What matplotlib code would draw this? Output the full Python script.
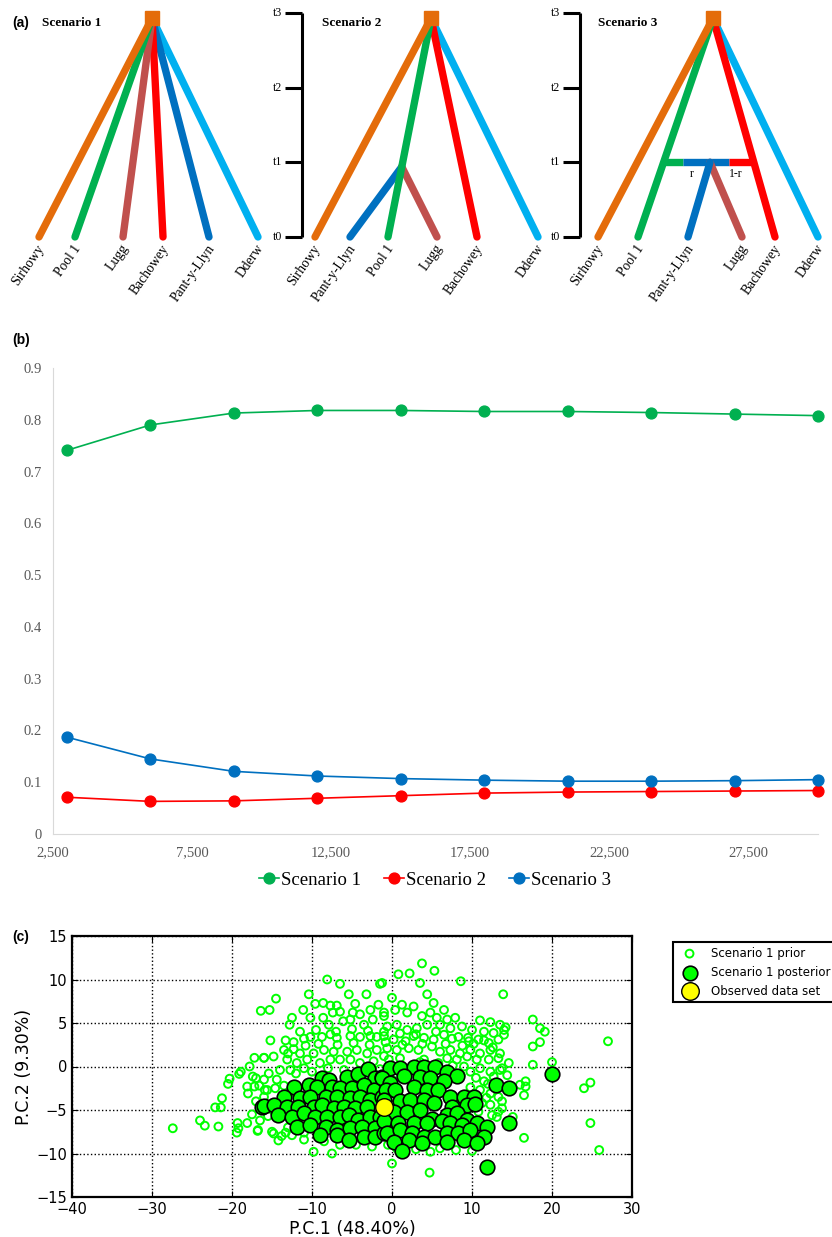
import numpy as np
import matplotlib
matplotlib.use('Agg')
import matplotlib.pyplot as plt

# ---------------- data ----------------
# (a) tree topologies: leaves in drawing order and their x positions
time_labels = ['t0', 't1', 't2', 't3']
root_t = 2.93
pop_colors = {'Sirhowy': '#E46C0A', 'Pool 1': '#00B050', 'Lugg': '#C0504D',
              'Bachowey': '#FF0000', 'Pant-y-Llyn': '#0070C0', 'Dderw': '#00B0F0'}

s1_root_x = 152
s1_leaves = ['Sirhowy', 'Pool 1', 'Lugg', 'Bachowey', 'Pant-y-Llyn', 'Dderw']
s1_leaf_x = [39, 75, 123, 163, 209, 258]

s2_root_x = 431
s2_leaves = ['Sirhowy', 'Pant-y-Llyn', 'Pool 1', 'Lugg', 'Bachowey', 'Dderw']
s2_leaf_x = [315, 350, 388, 437, 477, 538]
s2_split_t = 0.94          # Pant-y-Llyn and Lugg split off Pool 1

s3_root_x = 713
s3_leaves = ['Sirhowy', 'Pool 1', 'Pant-y-Llyn', 'Lugg', 'Bachowey', 'Dderw']
s3_leaf_x = [598, 638, 688, 742, 775, 818]
s3_admix_t = 1.0           # admixture between Pool 1 and Bachowey
s3_admix_x = 710

# (b) posterior probability vs number of simulations
n_sims = [3000, 6000, 9000, 12000, 15000, 18000, 21000, 24000, 27000, 30000]
prob_s1 = [0.741, 0.790, 0.813, 0.818, 0.818, 0.816, 0.816, 0.814, 0.811, 0.808]
prob_s2 = [0.071, 0.063, 0.064, 0.069, 0.074, 0.079, 0.081, 0.082, 0.083, 0.084]
prob_s3 = [0.187, 0.145, 0.121, 0.112, 0.107, 0.104, 0.102, 0.102, 0.103, 0.105]

# (c) PCA of prior / posterior simulated data sets
prior_pts = [
    (-27.4, -7.1), (-24.0, -6.2), (-23.4, -6.8), (-21.7, -6.9), (-22.1, -4.7), (-21.4, -4.7),
    (-21.25, -3.65), (-20.5, -2.0), (-20.3, -1.4), (-19.3, -6.5), (-19.2, -7.1), (-19.4, -7.6),
    (-19.1, -0.85), (-18.9, -0.6), (-18.1, -6.5), (-17.5, -5.5), (-16.8, -7.4), (-16.5, -6.2),
    (-17.8, 0.0), (-17.2, 1.0), (-17.4, -1.15), (-17.0, -1.35), (-18.1, -2.3), (-18.0, -3.1),
    (-16.6, -2.2), (-17.2, -2.3), (-16.0, 1.0), (-17.0, -4.0), (-16.0, -1.5), (-15.9, -2.7),
    (-8.1, 10.0), (-6.5, 9.5), (-1.5, 9.5), (-14.5, 7.8), (-15.3, 6.5), (-10.4, 8.3), (-5.4, 8.3),
    (-3.2, 8.3), (-11.1, 6.5), (-9.6, 7.2), (-8.6, 7.3), (-7.7, 7.0), (-6.9, 7.0), (-4.6, 7.2),
    (-1.7, 7.1), (-12.5, 5.6), (-10.2, 5.6), (-12.8, 4.8), (-7.4, 6.2), (-6.5, 6.3), (-4.9, 6.2),
    (-4.0, 6.0), (-2.7, 6.5), (-1.0, 5.8), (-8.6, 5.6), (-7.9, 4.8), (-6.1, 5.2), (-5.2, 5.4),
    (-3.5, 4.8), (-2.4, 5.4), (-15.2, 3.0), (-13.3, 3.0), (-12.3, 2.8), (-11.0, 3.2), (-10.2, 3.4),
    (-8.75, 3.4), (-7.7, 3.7), (-6.9, 3.3), (-5.2, 3.5), (-4.0, 3.4), (-2.7, 3.5), (-1.9, 3.4),
    (-16.0, 1.0), (-14.8, 1.15), (-13.5, 1.9), (-12.3, 2.0), (-11.5, 1.5), (-9.8, 1.5), (-8.5, 1.9),
    (-7.3, 1.7), (-5.6, 1.7), (-4.4, 1.9), (-3.1, 1.5), (-1.9, 1.9), (-13.1, 0.8), (-11.9, 0.4),
    (-10.6, 0.8), (-9.0, 0.4), (-7.7, 0.8), (-6.5, 0.8), (-5.2, 0.8), (-4.0, 0.4), (-2.3, 0.6),
    (-1.0, 1.2), (-14.0, -0.4), (-12.7, -0.4), (-11.0, -0.2), (-15.4, -0.8), (-14.4, -1.5),
    (-15.6, -2.7), (-14.6, -2.5), (-16.0, -3.5), (-15.0, -7.5), (-14.2, -8.5), (-13.3, -7.6),
    (-12.5, -7.9), (-9.8, -9.8),
    (3.75, 11.85), (0.8, 10.6), (2.2, 10.7), (5.3, 11.0), (3.5, 9.6), (8.6, 9.8), (-1.25, 9.6),
    (0.0, 7.9), (4.4, 8.3), (5.2, 7.3), (6.5, 6.5), (2.7, 6.9), (1.25, 7.1), (0.4, 6.5), (-1.0, 6.2),
    (1.9, 6.2), (3.75, 5.8), (4.8, 6.2), (5.6, 5.6), (6.9, 5.4), (7.9, 5.6), (11.0, 5.3), (12.3, 5.1),
    (13.5, 4.8), (-0.6, 4.6), (0.6, 4.8), (1.9, 4.2), (3.1, 4.4), (4.4, 4.8), (6.0, 4.8), (7.3, 4.4),
    (8.75, 4.6), (10.0, 4.2), (11.5, 4.0), (12.7, 3.85), (14.0, 4.2), (-1.0, 3.5), (0.2, 3.1),
    (1.7, 2.9), (2.7, 3.5), (4.0, 3.3), (5.2, 3.1), (6.5, 3.65), (8.3, 3.4), (9.6, 2.9), (10.8, 3.1),
    (12.1, 2.7), (13.3, 3.1), (-0.6, 2.1), (0.6, 1.9), (2.1, 2.1), (3.3, 1.9), (5.0, 2.3), (6.0, 1.7),
    (7.3, 1.9), (8.5, 1.5), (9.8, 1.9), (11.0, 1.5), (12.3, 1.9), (13.5, 1.5), (-0.4, 0.8), (1.0, 0.95),
    (4.0, 0.8), (6.9, 0.95), (8.1, 0.8), (9.4, 1.15), (10.6, 0.8), (12.1, 0.8), (13.3, 0.95),
    (9.0, 0.0), (9.8, -0.6), (11.0, -0.2), (12.3, -0.6), (13.5, -0.4), (11.5, -1.7), (12.7, -1.15),
    (11.0, -2.7), (12.3, -3.1), (13.3, -3.5), (11.25, -4.2), (12.3, -4.4), (13.3, -5.2), (13.1, -5.8),
    (0.0, -11.15), (4.7, -12.2), (4.8, -9.8), (0.6, -9.4),
    (13.9, 8.3), (17.6, 5.4), (18.5, 4.4), (19.1, 4.0), (14.2, 4.5), (14.0, 3.65), (17.6, 2.3),
    (18.5, 2.8), (27.0, 2.9), (20.0, 0.5), (17.6, 0.2), (14.6, 0.4), (13.75, -0.2), (14.4, -1.0),
    (16.0, -2.1), (16.7, -1.7), (16.7, -2.3), (16.5, -3.3), (24.0, -2.5), (24.8, -1.85),
    (13.75, -4.0), (13.75, -4.8), (15.1, -5.8), (24.8, -6.5), (16.5, -8.2), (25.9, -9.6),
    (-11.5, 4.0), (-9.5, 4.2), (-7.0, 4.0), (-5.0, 4.3), (-3.0, 4.1), (-1.0, 4.0), (1.0, 3.8),
    (3.0, 3.7), (5.5, 4.0), (7.5, 3.2), (9.5, 3.3), (11.5, 3.0), (-13.0, 1.5), (-10.8, 2.4),
    (-9.2, 2.6), (-6.8, 2.5), (-4.8, 2.7), (-2.8, 2.5), (-0.8, 2.8), (1.3, 2.5), (3.8, 2.6),
    (6.7, 2.6), (8.8, 2.4), (10.2, 2.6), (12.6, 2.2), (-12.0, -0.8), (-10.0, -0.6), (-8.0, -0.2),
    (-6.0, -0.4), (-3.5, -0.6), (-1.5, -0.3), (0.5, -0.8), (2.2, -0.5), (3.5, 0.5), (5.8, 0.4),
    (7.6, 0.1), (8.6, -1.0), (10.5, -1.3), (12.0, -2.0), (9.8, -2.4), (11.8, -3.6), (10.8, -5.2),
    (12.5, -5.6), (12.0, -7.2), (-13.5, -2.2), (-12.8, -3.0), (-14.0, -5.0), (-15.5, -5.7),
    (-13.0, -7.0), (-11.0, -7.6), (-8.5, -8.6), (-6.5, -9.0), (-4.5, -9.0), (-2.5, -9.2),
    (-0.5, -9.0), (3.0, -9.5), (6.0, -9.4), (8.0, -9.6), (-7.5, -10.0), (10.0, -9.7),
    (-11.0, -8.4), (-13.8, -8.0), (-16.75, -7.3), (-14.8, -7.7), (-16.4, 6.4),
]

posterior_pts = [
    (-16.2, -4.6),
    (-8.75, -1.35), (-7.9, -1.5), (-5.6, -1.15), (-4.2, -0.85), (-3.0, -0.3), (-2.1, -1.35),
    (-1.25, -1.15), (-12.3, -2.3), (-10.4, -2.1), (-9.4, -2.3), (-7.5, -2.3), (-6.5, -2.5),
    (-5.0, -2.5), (-3.5, -2.1), (-2.3, -2.7), (-13.5, -3.5), (-11.5, -3.65), (-10.2, -3.5),
    (-8.3, -3.5), (-6.9, -3.5), (-5.2, -3.65), (-4.0, -3.5), (-2.7, -3.85), (-1.25, -3.5),
    (-16.0, -4.5), (-14.8, -4.4), (-13.1, -4.6), (-11.7, -4.6), (-9.8, -4.6), (-8.75, -4.4),
    (-7.3, -4.8), (-6.0, -4.6), (-4.6, -4.8), (-3.1, -4.6), (-14.2, -5.6), (-12.5, -5.8),
    (-11.0, -5.4), (-9.6, -5.8), (-8.1, -5.8), (-6.5, -5.8), (-5.4, -5.6), (-4.2, -6.15),
    (-2.7, -5.8), (-1.5, -5.8), (-11.9, -6.9), (-10.2, -6.7), (-8.3, -6.9), (-6.9, -7.3),
    (-5.2, -7.1), (-3.75, -6.9), (-2.1, -7.1), (-9.0, -7.9), (-6.9, -7.9), (-5.4, -8.5),
    (-3.5, -8.1), (-2.1, -8.1), (-1.0, -7.7),
    (-0.2, -0.2), (1.0, -0.2), (2.7, -0.1), (4.0, 0.0), (5.4, 0.0), (6.9, -0.6), (8.1, -1.1),
    (-1.25, -1.35), (1.5, -1.1), (3.5, -1.15), (4.8, -1.35), (6.5, -1.7), (-0.2, -1.9),
    (-0.8, -2.7), (0.4, -2.7), (2.7, -2.3), (4.4, -2.7), (5.8, -2.7), (7.3, -3.5), (9.0, -3.5),
    (10.2, -3.5), (-1.0, -3.85), (1.0, -4.0), (2.3, -3.85), (4.0, -3.85), (5.2, -4.2),
    (7.5, -4.6), (9.4, -4.4), (10.4, -4.3), (0.2, -5.2), (1.9, -5.2), (3.5, -5.0), (5.0, -6.0),
    (6.9, -5.6), (8.1, -5.4), (9.4, -6.15), (10.6, -6.5), (11.9, -6.9), (-1.0, -6.3), (0.8, -6.5),
    (2.7, -6.5), (4.4, -6.5), (6.25, -6.3), (7.3, -6.5), (8.75, -6.7), (-0.6, -7.7), (1.0, -7.3),
    (2.5, -7.7), (4.0, -8.1), (5.4, -8.1), (6.9, -7.7), (8.3, -7.7), (9.8, -7.3), (11.5, -8.1),
    (0.2, -8.65), (2.1, -8.5), (3.75, -8.85), (6.9, -8.65), (9.0, -8.5), (10.6, -8.85),
    (1.25, -9.7), (11.9, -11.5), (13.0, -2.1), (20.0, -0.9), (14.6, -2.5), (14.6, -6.5),
]

observed_pt = (-1.0, -4.7)

SERIF = 'Liberation Serif'

fig = plt.figure(figsize=(8.32, 12.37), dpi=100)

# ---------------- (a) scenarios ----------------
ax_a = fig.add_axes([0, 1 - 310 / 1237, 1, 310 / 1237])
ax_a.set_xlim(0, 832)
ax_a.set_ylim(-0.978, 3.174)
ax_a.axis('off')

LW = 5.3


def along(root_x, leaf_x, t):
    # x position on the straight branch root -> leaf at time t
    return root_x + (leaf_x - root_x) * (root_t - t) / root_t


def branch(x0, t0, x1, t1, color, cap='round'):
    ax_a.plot([x0, x1], [t0, t1], color=color, lw=LW, solid_capstyle=cap)


def leaf_labels(leaves, xs):
    for name, x in zip(leaves, xs):
        ax_a.text(x + 3, -0.12, name, rotation=55, rotation_mode='anchor',
                  ha='right', va='center', fontsize=9.8, family=SERIF)


def time_bar(x):
    ax_a.plot([x, x], [0, 3], color='k', lw=2.2, solid_capstyle='butt')
    for t, lab in enumerate(time_labels):
        ax_a.plot([x - 17, x], [t, t], color='k', lw=2.2, solid_capstyle='butt')
        ax_a.text(x - 20, t, lab, ha='right', va='center', fontsize=8.5, family=SERIF)


def root_square(x):
    ax_a.plot([x], [root_t], marker='s', ms=9.5, color=pop_colors['Sirhowy'], zorder=5)


# scenario 1: star-like
for name, x in reversed(list(zip(s1_leaves, s1_leaf_x))):
    branch(s1_root_x, root_t, x, 0, pop_colors[name])
root_square(s1_root_x)
leaf_labels(s1_leaves, s1_leaf_x)

# scenario 2
time_bar(302)
s2 = dict(zip(s2_leaves, s2_leaf_x))
split_x = along(s2_root_x, s2['Pool 1'], s2_split_t)
branch(split_x, s2_split_t, s2['Pant-y-Llyn'], 0, pop_colors['Pant-y-Llyn'])
branch(split_x, s2_split_t, s2['Lugg'], 0, pop_colors['Lugg'])
for name in ['Dderw', 'Bachowey', 'Pool 1', 'Sirhowy']:
    branch(s2_root_x, root_t, s2[name], 0, pop_colors[name])
root_square(s2_root_x)
leaf_labels(s2_leaves, s2_leaf_x)

# scenario 3: admixture
time_bar(580)
s3 = dict(zip(s3_leaves, s3_leaf_x))
for name in ['Dderw', 'Bachowey', 'Pool 1', 'Sirhowy']:
    branch(s3_root_x, root_t, s3[name], 0, pop_colors[name])
gx = along(s3_root_x, s3['Pool 1'], s3_admix_t)
rx = along(s3_root_x, s3['Bachowey'], s3_admix_t)
ax_a.plot([gx, gx + 19], [s3_admix_t] * 2, color=pop_colors['Pool 1'], lw=LW, solid_capstyle='butt')
ax_a.plot([gx + 19, rx - 25], [s3_admix_t] * 2, color=pop_colors['Pant-y-Llyn'], lw=LW, solid_capstyle='butt')
ax_a.plot([rx - 25, rx], [s3_admix_t] * 2, color=pop_colors['Bachowey'], lw=LW, solid_capstyle='butt')
branch(s3_admix_x, s3_admix_t, s3['Lugg'], 0, pop_colors['Lugg'])
branch(s3_admix_x, s3_admix_t, s3['Pant-y-Llyn'], 0, pop_colors['Pant-y-Llyn'])
ax_a.text(s3_admix_x - 18, 0.84, 'r', ha='center', va='center', fontsize=8.5, family=SERIF)
ax_a.text(s3_admix_x + 26, 0.84, '1-r', ha='center', va='center', fontsize=8.5, family=SERIF)
root_square(s3_root_x)
leaf_labels(s3_leaves, s3_leaf_x)

for x, title in [(42, 'Scenario 1'), (322, 'Scenario 2'), (598, 'Scenario 3')]:
    ax_a.text(x, 2.86, title, fontsize=9.5, fontweight='bold', family=SERIF, va='center')

fig.text(12 / 832, 1 - 23 / 1237, '(a)', fontsize=10, fontweight='bold',
         family='Liberation Sans', va='center')

# ---------------- (b) posterior probabilities ----------------
ax_b = fig.add_axes([53 / 832, 403 / 1237, 765 / 832, 466 / 1237])
for vals, col, lab in [(prob_s1, '#00B050', 'Scenario 1'),
                       (prob_s2, '#FF0000', 'Scenario 2'),
                       (prob_s3, '#0070C0', 'Scenario 3')]:
    ax_b.plot(n_sims, vals, '-o', color=col, lw=1.2, ms=7.8, label=lab, clip_on=False)

ax_b.set_xlim(2500, 30000)
ax_b.set_ylim(0, 0.9)
xt = list(range(2500, 30000, 5000))
ax_b.set_xticks(xt)
ax_b.set_xticklabels([f'{v:,}' for v in xt], family=SERIF)
yt = np.round(np.arange(0, 0.95, 0.1), 1)
ax_b.set_yticks(yt)
ax_b.set_yticklabels([f'{v:g}' for v in yt], family=SERIF)
ax_b.tick_params(length=0, labelsize=10.5, labelcolor='#595959')
ax_b.tick_params(axis='x', pad=9)
ax_b.tick_params(axis='y', pad=8)
for side in ['top', 'right']:
    ax_b.spines[side].set_visible(False)
for side in ['left', 'bottom']:
    ax_b.spines[side].set_color('#D9D9D9')

ax_b.legend(loc='center', bbox_to_anchor=(435 / 832, 1 - 880 / 1237),
            bbox_transform=fig.transFigure, ncol=3, frameon=False,
            prop={'family': SERIF, 'size': 13.5}, handlelength=1.1,
            handletextpad=0.1, columnspacing=1.2)

fig.text(12 / 832, 1 - 340 / 1237, '(b)', fontsize=10, fontweight='bold',
         family='Liberation Sans', va='center')

# ---------------- (c) PCA ----------------
ax_c = fig.add_axes([72 / 832, 40 / 1237, 560 / 832, 261 / 1237])
prior = np.array(prior_pts)
post = np.array(posterior_pts)
ax_c.scatter(prior[:, 0], prior[:, 1], s=32, facecolors='none', edgecolors='#00FF00',
             linewidths=1.4, label='Scenario 1 prior', zorder=2)
ax_c.scatter(post[:, 0], post[:, 1], s=110, c='#00FF00', edgecolors='k',
             linewidths=1.2, label='Scenario 1 posterior', zorder=3)
ax_c.scatter([observed_pt[0]], [observed_pt[1]], s=160, c='#FFFF00', edgecolors='k',
             linewidths=1.0, label='Observed data set', zorder=4)

ax_c.set_xlim(-40, 30)
ax_c.set_ylim(-15, 15)
ax_c.set_xticks(range(-40, 31, 10))
ax_c.set_yticks(range(-15, 16, 5))
ax_c.grid(True, linestyle=':', color='k', lw=1)
ax_c.set_axisbelow(True)
ax_c.tick_params(direction='in', length=4, labelsize=10.5, top=True, right=True)
for sp in ax_c.spines.values():
    sp.set_linewidth(1.6)
ax_c.set_xlabel('P.C.1 (48.40%)', fontsize=12.5, labelpad=2)
ax_c.set_ylabel('P.C.2 (9.30%)', fontsize=12.5, labelpad=2)

leg = ax_c.legend(loc='upper left', bbox_to_anchor=(673 / 832, 1 - 942 / 1237),
                  bbox_transform=fig.transFigure, borderaxespad=0, fancybox=False,
                  edgecolor='k', fontsize=8.5, scatterpoints=1, framealpha=1)
leg.get_frame().set_linewidth(1.5)

fig.text(12 / 832, 1 - 937 / 1237, '(c)', fontsize=10, fontweight='bold',
         family='Liberation Sans', va='center')

fig.savefig('out.png', dpi=100)
